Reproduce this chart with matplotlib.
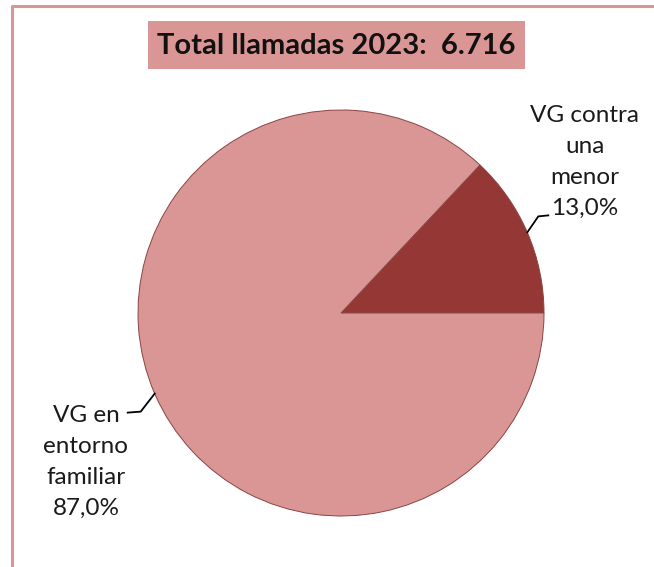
import numpy as np
import matplotlib.pyplot as plt
from matplotlib.patches import Rectangle

# Datos
etiquetas = ["VG contra\nuna\nmenor", "VG en\nentorno\nfamiliar"]
porcentajes = [13.0, 87.0]
colores = ["#953735", "#D99694"]
titulo = "Total llamadas 2023:  6.716"

plt.rcParams["font.family"] = ["Lato", "DejaVu Sans"]

W, H = 654, 567
fig = plt.figure(figsize=(W / 100, H / 100), dpi=100)
ax = fig.add_axes([0, 0, 1, 1])
ax.set_xlim(0, W)
ax.set_ylim(0, H)
ax.set_aspect("equal")
ax.axis("off")

# Marco del gráfico
ax.plot([12, 12, W + 5], [-5, H - 6, H - 6], color="#D99694", lw=2.2,
        solid_capstyle="butt", clip_on=False)

# Título con fondo
ax.add_patch(Rectangle((148, H - 69), 377, 48, facecolor="#D99694",
                       edgecolor="none"))
ax.text(336, H - 46, titulo, ha="center", va="center", fontsize=21,
        fontweight="bold", color="#111111")

# Tarta
cx, cy, r = 341, H - 313, 203
wedges, _ = ax.pie(porcentajes, colors=colores, startangle=0,
                   counterclock=True, center=(cx, cy), radius=r,
                   wedgeprops=dict(edgecolor="#8a4444", linewidth=0.7))
ax.set_xlim(0, W)
ax.set_ylim(0, H)

# Etiquetas con líneas guía
txt_pos = [(585, H - 162), (86, H - 462)]
codos = [((11, 16), (21, 17)), ((-14, -18), (-27, -19))]
for w, lab, pct, (tx, ty), (c1, c2) in zip(wedges, etiquetas, porcentajes,
                                             txt_pos, codos):
    ang = np.deg2rad((w.theta1 + w.theta2) / 2)
    ax0 = cx + r * np.cos(ang)
    ay0 = cy + r * np.sin(ang)
    ax.plot([ax0, ax0 + c1[0], ax0 + c2[0]],
            [ay0, ay0 + c1[1], ay0 + c2[1]], color="black", lw=1.3)
    ax.text(tx, ty, f"{lab}\n{pct:.1f}%".replace(".", ","), ha="center",
            va="center", fontsize=17.5, linespacing=1.6, color="#1a1a1a")

fig.savefig("out.png", dpi=100)
